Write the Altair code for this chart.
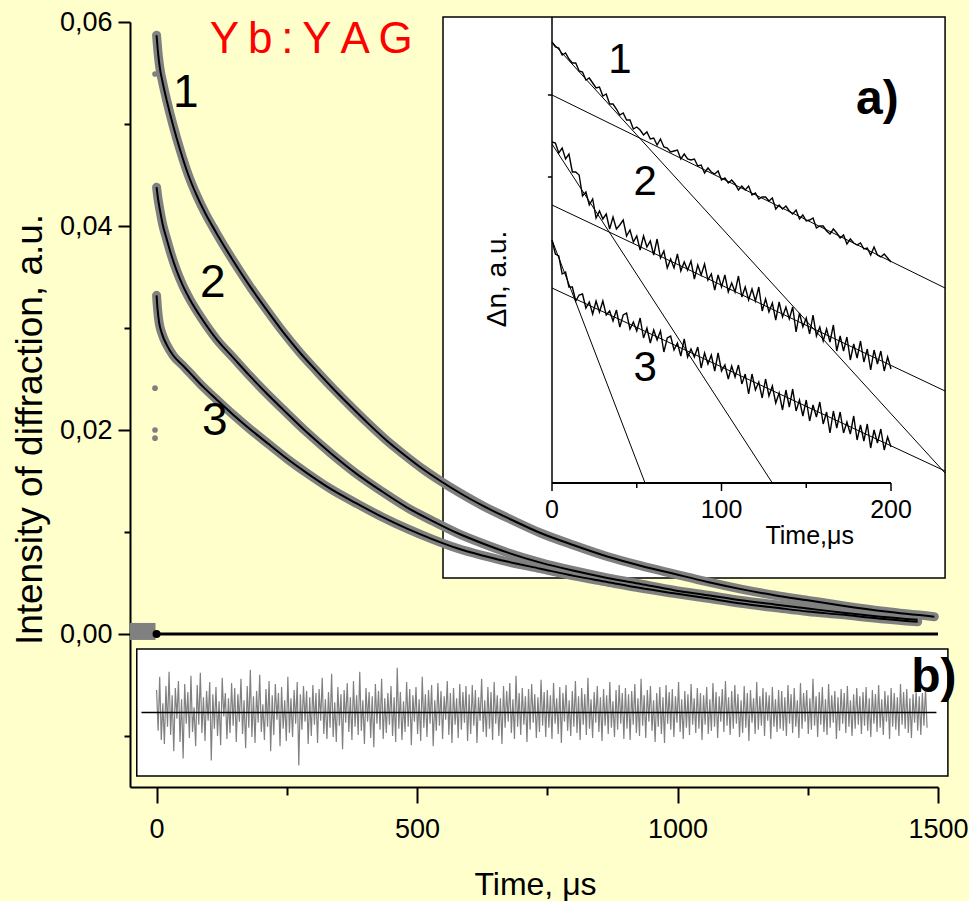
import altair as alt
import pandas as pd

FONT = "Liberation Sans"
GREY = "#808080"
BG = "#FFFFCC"

# ---------------- main decay curves: time (us) and diffraction intensity (a.u.)
t_curve1 = [0, 3, 6, 12, 20, 32, 45, 61, 77, 93, 115, 147, 179, 211, 243, 275, 307, 340, 371, 405,
            441, 477, 513, 545, 583, 625, 673, 737, 801, 865, 929, 993, 1058, 1122, 1186, 1250, 1314, 1400, 1493]
i_curve1 = [0.0587, 0.0569, 0.0556, 0.0540, 0.0522, 0.0498, 0.0475, 0.0450, 0.0430, 0.0413,
            0.0393, 0.0366, 0.0341, 0.0318, 0.0296, 0.0276, 0.0258, 0.0240, 0.0224, 0.0207,
            0.0190, 0.0175, 0.0161, 0.0150, 0.0138, 0.0126, 0.0114, 0.0099, 0.0087, 0.0076,
            0.0067, 0.0059, 0.0051, 0.0044, 0.0038, 0.0033, 0.0028, 0.0022, 0.0017]

t_curve2 = [0, 3, 6, 12, 19, 28, 38, 50, 64, 87, 115, 147, 179, 211, 243, 288, 335, 384, 432, 481,
            529, 577, 625, 673, 737, 801, 865, 929, 993, 1058, 1122, 1186, 1250, 1314, 1390, 1461]
i_curve2 = [0.0438, 0.0426, 0.0417, 0.0401, 0.0388, 0.0372, 0.0357, 0.0342, 0.0328, 0.0309,
            0.0289, 0.0271, 0.0253, 0.0236, 0.0220, 0.0198, 0.0177, 0.0157, 0.0140, 0.0124,
            0.0111, 0.0099, 0.0089, 0.0080, 0.0070, 0.0062, 0.0055, 0.0049, 0.0043, 0.0038,
            0.0033, 0.0029, 0.0025, 0.0021, 0.0017, 0.0014]

t_curve3 = [0, 2, 5, 10, 20, 32, 51, 64, 90, 115, 147, 179, 218, 250, 288, 335, 384, 432, 482, 529,
            577, 625, 673, 737, 801, 865, 929, 993, 1058, 1122, 1186, 1250, 1314, 1390, 1461]
i_curve3 = [0.0332, 0.0318, 0.0305, 0.0295, 0.0283, 0.0273, 0.0263, 0.0256, 0.0242, 0.0230,
            0.0215, 0.0201, 0.0185, 0.0172, 0.0158, 0.0142, 0.0128, 0.0115, 0.0103, 0.0093,
            0.0084, 0.0077, 0.0071, 0.0064, 0.0057, 0.0051, 0.0045, 0.0040, 0.0035, 0.0030,
            0.0026, 0.0022, 0.0019, 0.0015, 0.0012]

# baseline before the pump pulse and a few stray points at t = 0
t_pre = [-51, -2]
i_pre = [0.00025, 0.00025]
t_stray = [-3, -3, -3, -3]
i_stray = [0.0549, 0.0241, 0.0200, 0.0192]
t_zero = [0, 1500]
i_zero = [0.0, 0.0]

# ---------------- fit residuals (x 1e-4), one value every 3 us
resid = [
    22, -18, 35, -27, 9, -31, 26, -14, 40, -22, 17, -38, 24, -6, 31, -29, 13, -45, 28, -11,
    20, -25, 36, -19, 5, -33, 27, -12, 39, -20, 15, -28, 21, -8, 30, -47, 18, -16, 25, -23,
    11, -32, 34, -4, 19, -26, 14, -20, 29, -13,
    24, -29, 18, -9, 33, -21, 12, -35, 26, -15, 42, -24, 16, -30, 21, -10, 37, -19, 8, -27,
    23, -14, 31, -38, 17, -22, 28, -7, 19, -33, 25, -16, 12, -28, 35, -20, 14, -24, 22, -11,
    30, -52, 18, -17, 26, -9, 21, -31, 15, -23,
    27, -12, 19, -30, 23, -8, 34, -21, 13, -26, 20, -15, 38, -24, 10, -29, 25, -13, 18, -36,
    22, -10, 29, -19, 15, -27, 31, -14, 17, -22, 40, -18, 12, -31, 24, -9, 20, -25, 16, -34,
    28, -11, 21, -17, 33, -26, 14, -20, 19, -12,
    26, -23, 15, -29, 44, -16, 20, -27, 11, -19, 30, -14, 23, -32, 17, -9, 25, -21, 13, -28,
    35, -15, 18, -24, 22, -11, 27, -33, 12, -18, 29, -13, 21, -26, 16, -7, 31, -22, 19, -30,
    24, -12, 14, -25, 28, -17, 20, -10, 26, -28,
    18, -21, 27, -13, 22, -30, 15, -8, 33, -19, 12, -24, 25, -16, 20, -27, 30, -11, 17, -23,
    14, -31, 26, -15, 21, -9, 29, -20, 13, -26, 36, -14, 19, -22, 24, -12, 16, -29, 23, -17,
    28, -10, 18, -25, 15, -19, 32, -13, 20, -24,
    22, -15, 17, -26, 29, -11, 14, -21, 25, -30, 19, -9, 27, -18, 12, -23, 21, -14, 31, -20,
    16, -27, 24, -12, 18, -22, 34, -16, 13, -25, 20, -10, 26, -19, 15, -28, 23, -13, 17, -21,
    30, -15, 11, -24, 22, -17, 27, -11, 19, -26,
    24, -16, 18, -27, 21, -12, 28, -20, 14, -23, 33, -13, 17, -25, 22, -9, 26, -18, 12, -29,
    19, -14, 25, -21, 15, -30, 27, -11, 20, -17, 23, -24, 16, -10, 30, -19, 13, -26, 21, -15,
    18, -22, 28, -12, 14, -20, 24, -16, 19, -27,
    17, -12, 25, -21, 13, -18, 29, -14, 20, -25, 16, -9, 23, -19, 31, -13, 15, -22, 21, -16,
    27, -11, 18, -24, 12, -20, 26, -15, 19, -28, 22, -10, 14, -21, 30, -17, 16, -13, 24, -23,
    20, -8, 17, -26, 25, -14, 13, -19, 22, -16,
    21, -18, 15, -23, 27, -11, 18, -20, 24, -14, 12, -25, 29, -16, 19, -9, 22, -21, 14, -17,
    33, -13, 16, -24, 20, -12, 25, -19, 13, -22, 28, -15, 17, -10, 21, -26, 15, -18, 23, -11,
    19, -20, 26, -14, 12, -23, 18, -16, 24, -12,
    16, -21, 20, -13, 25, -18, 14, -24, 22, -11, 18, -19, 27, -15, 13, -22, 21, -9, 17, -26,
    24, -14, 19, -17, 15, -23, 28, -12, 20, -16, 23, -20, 14, -25, 18, -10, 21, -18, 16, -22,
    19, -13, 24, -15,
]
RES_STEP = 3

# ---------------- inset a): log-scale signal (a.u.) every 2 us from 0 to 200 us
log1 = [441, 436, 435, 428, 430, 424, 420, 420, 412, 411, 403, 405, 400, 395, 396, 387, 389, 379, 379, 374,
        368, 370, 363, 363, 354, 356, 353, 348, 351, 344, 345, 338, 344, 336, 335, 331, 332, 333, 324, 329,
        324, 323, 324, 317, 318, 310, 315, 311, 309, 312, 303, 305, 300, 303, 299, 293, 297, 293, 297, 288,
        290, 284, 286, 286, 282, 285, 274, 278, 274, 277, 272, 269, 273, 264, 268, 262, 263, 265, 255, 257,
        257, 252, 249, 254, 250, 245, 248, 239, 244, 240, 238, 240, 234, 235, 228, 236, 228, 226, 229, 225,
        221]
log2 = [341, 340, 330, 335, 324, 329, 311, 311, 308, 287, 291, 278, 284, 265, 272, 264, 269, 254, 266, 254,
        258, 263, 247, 253, 241, 247, 233, 247, 236, 242, 228, 244, 225, 232, 215, 224, 215, 229, 212, 221,
        213, 222, 204, 218, 208, 219, 203, 209, 193, 208, 196, 208, 191, 200, 191, 207, 186, 196, 183, 194,
        182, 196, 172, 184, 171, 180, 163, 181, 166, 176, 164, 176, 151, 170, 156, 165, 149, 168, 147, 156,
        142, 154, 141, 158, 132, 147, 132, 146, 123, 139, 125, 142, 121, 134, 113, 133, 119, 132, 112, 126,
        114]
log3 = [243, 229, 227, 209, 211, 196, 196, 182, 188, 189, 175, 181, 169, 182, 171, 182, 168, 172, 162, 173,
        156, 168, 170, 154, 161, 152, 165, 145, 155, 140, 153, 143, 152, 131, 145, 147, 133, 140, 127, 144,
        126, 134, 126, 136, 115, 130, 119, 128, 112, 130, 112, 118, 104, 117, 106, 118, 99, 109, 89, 109,
        93, 101, 85, 104, 87, 97, 80, 90, 73, 93, 76, 94, 72, 83, 67, 83, 62, 78, 66, 81,
        59, 71, 50, 72, 55, 71, 50, 61, 49, 67, 43, 58, 42, 59, 35, 53, 40, 54, 33, 46,
        36]
LOG_STEP = 2

# straight-line fits of the two decay components (start and end points)
fit_id = ["1s", "1s", "1f", "1f", "2s", "2s", "2f", "2f", "3s", "3s", "3f", "3f"]
fit_t = [0, 231.9, 0, 231.9, 0, 231.9, 0, 130, 0, 231.9, 0, 54.9]
fit_u = [388, 195, 441, 10, 278, 92, 339, 0, 195, 12, 243, 0]

inset_ticks = [0, 50, 100, 150, 200]
inset_labels = ["0", "100", "200"]
inset_label_t = [0, 100, 200]

# ---------------- main scales and axes
MX = alt.Scale(domain=[-51, 1500], nice=False, zero=False)
MY = alt.Scale(domain=[-0.015, 0.06], nice=False, zero=False)

X_AXIS = alt.Axis(
    orient="bottom", values=[0, 250, 500, 750, 1000, 1250, 1500], format="d",
    labelExpr="datum.value % 500 == 0 ? datum.label : ''",
    tickSize={"condition": {"test": "datum.value % 500 == 0", "value": 16}, "value": 8},
    tickWidth=2, tickColor="black", domainWidth=2, domainColor="black",
    labelFont=FONT, labelFontSize=27, labelColor="black", labelPadding=13,
    labelFlush=False, labelOverlap=False, grid=False,
    title="Time, \u03bcs", titleFont=FONT, titleFontSize=32, titleFontWeight="normal",
    titleColor="black", titleX=405, titleY=97, titleBaseline="middle", titleAlign="center",
)
Y_AXIS = alt.Axis(
    orient="left", values=[-0.01, 0, 0.01, 0.02, 0.03, 0.04, 0.05, 0.06],
    labelExpr="(round(datum.value*100) % 2 == 0 && datum.value >= 0) ? replace(format(datum.value, '.2f'), '.', ',') : ''",
    tickSize={"condition": {"test": "round(datum.value*100) % 2 == 0", "value": 12}, "value": 6},
    tickWidth=2, tickColor="black", domainWidth=2, domainColor="black",
    labelFont=FONT, labelFontSize=27, labelColor="black", labelPadding=6,
    labelFlush=False, labelOverlap=False, grid=False,
    title="Intensity of diffraction, a.u.", titleFont=FONT, titleFontSize=37,
    titleFontWeight="normal", titleColor="black", titleAngle=270,
    titleX=-100, titleY=407, titleAlign="center", titleBaseline="middle",
)


def mxy():
    return dict(x=alt.X("t:Q", scale=MX, axis=X_AXIS), y=alt.Y("v:Q", scale=MY, axis=Y_AXIS))


curves = pd.concat([
    pd.DataFrame({"t": t_curve1, "v": i_curve1, "curve": "1"}),
    pd.DataFrame({"t": t_curve2, "v": i_curve2, "curve": "2"}),
    pd.DataFrame({"t": t_curve3, "v": i_curve3, "curve": "3"}),
])

band = alt.Chart(curves).mark_line(
    color=GREY, strokeWidth=9, strokeCap="round", strokeJoin="round", interpolate="monotone"
).encode(**mxy(), detail="curve:N")
fit = alt.Chart(curves).mark_line(color="black", strokeWidth=2, interpolate="monotone").encode(
    **mxy(), detail="curve:N")
pre = alt.Chart(pd.DataFrame({"t": t_pre, "v": i_pre})).mark_line(
    color=GREY, strokeWidth=17, strokeCap="butt").encode(**mxy())
stray = alt.Chart(pd.DataFrame({"t": t_stray, "v": i_stray})).mark_circle(
    color=GREY, size=32, opacity=1).encode(**mxy())
zero = alt.Chart(pd.DataFrame({"t": t_zero, "v": i_zero})).mark_line(
    color="black", strokeWidth=3).encode(**mxy())
origin = alt.Chart(pd.DataFrame({"t": [0], "v": [0.0]})).mark_circle(
    color="black", size=64, opacity=1).encode(**mxy())

main_labels = pd.DataFrame({"t": [56, 108, 112], "v": [0.0530, 0.0344, 0.0209], "label": ["1", "2", "3"]})
num = alt.Chart(main_labels).mark_text(font=FONT, fontSize=46, color="black").encode(
    **mxy(), text="label:N")
sample = alt.Chart(pd.DataFrame({"t": [297], "v": [0.0582], "label": ["Y\u2009b\u2009:\u2009Y\u2009A\u2009G"]})).mark_text(
    font=FONT, fontSize=44, color="#FF0000").encode(**mxy(), text="label:N")

main = alt.layer(band, fit, pre, stray, zero, origin, num, sample)

# ---------------- residual panel b)
RX = alt.Scale(domain=[-51, 1500], nice=False, zero=False)
RY = alt.Scale(domain=[-62.3, 62.3], range=[754, 627], nice=False, zero=False)


def rxy():
    return dict(x=alt.X("t:Q", scale=RX, axis=None), y=alt.Y("r:Q", scale=RY, axis=None))


res_df = pd.DataFrame({"t": [i * RES_STEP for i in range(len(resid))], "r": resid})
b_box = alt.Chart(pd.DataFrame({"t": [-38], "t2": [1519], "r": [-62.3], "r2": [62.3]})).mark_rect(
    fill="white", stroke="black", strokeWidth=1.5).encode(**rxy(), x2="t2:Q", y2="r2:Q")
b_line = alt.Chart(res_df).mark_line(color=GREY, strokeWidth=1.2).encode(**rxy())
b_zero = alt.Chart(pd.DataFrame({"t": [-29, 1497], "r": [0, 0]})).mark_line(
    color="black", strokeWidth=1.5).encode(**rxy())
b_tag = alt.Chart(pd.DataFrame({"t": [1492], "r": [34], "label": ["b)"]})).mark_text(
    font=FONT, fontSize=48, fontWeight="bold", color="black").encode(**rxy(), text="label:N")
panel_b = alt.layer(b_box, b_line, b_zero, b_tag)

# ---------------- inset a)
IX = alt.Scale(domain=[0, 200], range=[422, 761], nice=False, zero=False)
IY = alt.Scale(domain=[0, 466], range=[461, -5], nice=False, zero=False)


def ixy():
    return dict(x=alt.X("ti:Q", scale=IX, axis=None), y=alt.Y("u:Q", scale=IY, axis=None))


logs = pd.concat([
    pd.DataFrame({"ti": [i * LOG_STEP for i in range(len(log1))], "u": log1, "curve": "1"}),
    pd.DataFrame({"ti": [i * LOG_STEP for i in range(len(log2))], "u": log2, "curve": "2"}),
    pd.DataFrame({"ti": [i * LOG_STEP for i in range(len(log3))], "u": log3, "curve": "3"}),
])
fits = pd.DataFrame({"ti": fit_t, "u": fit_u, "id": fit_id})

i_box = alt.Chart(pd.DataFrame({"ti": [-64.3], "ti2": [231.9], "u": [-95], "u2": [466]})).mark_rect(
    fill="white", stroke="black", strokeWidth=1.5).encode(**ixy(), x2="ti2:Q", y2="u2:Q")
i_fit = alt.Chart(fits).mark_line(color="black", strokeWidth=1).encode(**ixy(), detail="id:N")
i_data = alt.Chart(logs).mark_line(color="black", strokeWidth=1.4).encode(**ixy(), detail="curve:N")
i_yaxis = alt.Chart(pd.DataFrame({"ti": [0], "u": [0], "u2": [466]})).mark_rule(
    color="black", strokeWidth=1.5).encode(**ixy(), y2="u2:Q")
i_xaxis = alt.Chart(pd.DataFrame({"ti": [0], "ti2": [200], "u": [0]})).mark_rule(
    color="black", strokeWidth=2).encode(**ixy(), x2="ti2:Q")
i_ticks = alt.Chart(pd.DataFrame({"ti": inset_ticks, "u": [0] * 5,
                                  "u2": [-8 if v % 100 == 0 else -5 for v in inset_ticks]})).mark_rule(
    color="black", strokeWidth=1.5).encode(**ixy(), y2="u2:Q")
i_yticks = alt.Chart(pd.DataFrame({"ti": [0, 0], "ti2": [-2.4, -2.4], "u": [388, 306]})).mark_rule(
    color="black", strokeWidth=1.5).encode(**ixy(), x2="ti2:Q")
i_tlabels = alt.Chart(pd.DataFrame({"ti": inset_label_t, "u": [-27] * 3, "label": inset_labels})).mark_text(
    font=FONT, fontSize=25, color="black").encode(**ixy(), text="label:N")
i_xtitle = alt.Chart(pd.DataFrame({"ti": [152], "u": [-53], "label": ["Time,\u03bcs"]})).mark_text(
    font=FONT, fontSize=25, color="black").encode(**ixy(), text="label:N")
i_ytitle = alt.Chart(pd.DataFrame({"ti": [-32], "u": [204], "label": ["\u0394n, a.u."]})).mark_text(
    font=FONT, fontSize=28, color="black", angle=270).encode(**ixy(), text="label:N")
i_nums = alt.Chart(pd.DataFrame({"ti": [40, 55, 55], "u": [423, 301, 115], "label": ["1", "2", "3"]})).mark_text(
    font=FONT, fontSize=42, color="black").encode(**ixy(), text="label:N")
i_tag = alt.Chart(pd.DataFrame({"ti": [192], "u": [383], "label": ["a)"]})).mark_text(
    font=FONT, fontSize=48, fontWeight="bold", color="black").encode(**ixy(), text="label:N")

inset = alt.layer(i_box, i_fit, i_data, i_yaxis, i_xaxis, i_ticks, i_yticks,
                  i_tlabels, i_xtitle, i_ytitle, i_nums, i_tag)

chart = alt.layer(inset, panel_b, main).resolve_scale(
    x="independent", y="independent"
).properties(
    width=808, height=765,
    autosize=alt.AutoSizeParams(type="none"),
    padding={"left": 130, "top": 22, "right": 31, "bottom": 114},
    background=BG,
).configure_view(stroke=None)

chart.save("out.html", embed_options={"renderer": "svg", "actions": False})
